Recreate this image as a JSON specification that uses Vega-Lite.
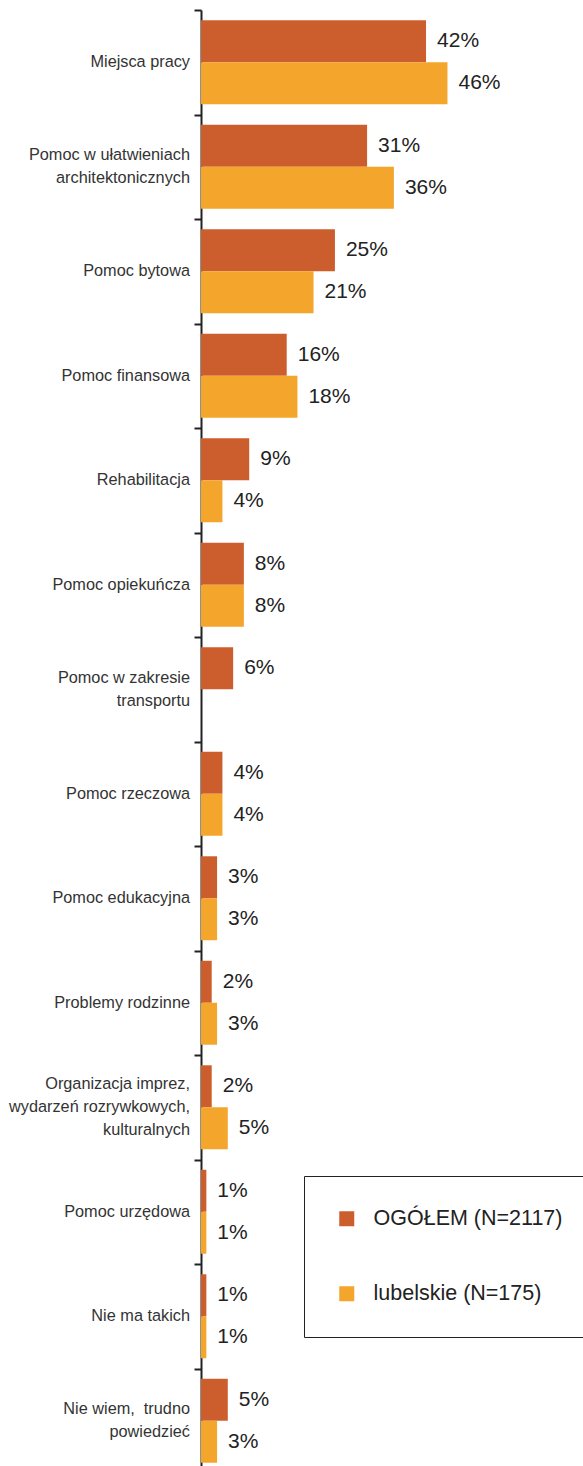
{
  "$schema": "https://vega.github.io/schema/vega-lite/v6.json",
  "autosize": {"type": "none"},
  "width": 382,
  "height": 1463,
  "padding": {"left": 201, "top": 10, "right": 0, "bottom": 0},
  "background": "white",
  "config": {
    "view": {"stroke": null},
    "font": "Liberation Sans"
  },
  "data": {
    "values": [
      {"cat": "Miejsca pracy", "series": "OGÓŁEM (N=2117)", "value": 0.42},
      {"cat": "Miejsca pracy", "series": "lubelskie (N=175)", "value": 0.46},
      {"cat": "Pomoc w ułatwieniach|architektonicznych", "series": "OGÓŁEM (N=2117)", "value": 0.31},
      {"cat": "Pomoc w ułatwieniach|architektonicznych", "series": "lubelskie (N=175)", "value": 0.36},
      {"cat": "Pomoc bytowa", "series": "OGÓŁEM (N=2117)", "value": 0.25},
      {"cat": "Pomoc bytowa", "series": "lubelskie (N=175)", "value": 0.21},
      {"cat": "Pomoc finansowa", "series": "OGÓŁEM (N=2117)", "value": 0.16},
      {"cat": "Pomoc finansowa", "series": "lubelskie (N=175)", "value": 0.18},
      {"cat": "Rehabilitacja", "series": "OGÓŁEM (N=2117)", "value": 0.09},
      {"cat": "Rehabilitacja", "series": "lubelskie (N=175)", "value": 0.04},
      {"cat": "Pomoc opiekuńcza", "series": "OGÓŁEM (N=2117)", "value": 0.08},
      {"cat": "Pomoc opiekuńcza", "series": "lubelskie (N=175)", "value": 0.08},
      {"cat": "Pomoc w zakresie|transportu", "series": "OGÓŁEM (N=2117)", "value": 0.06},
      {"cat": "Pomoc rzeczowa", "series": "OGÓŁEM (N=2117)", "value": 0.04},
      {"cat": "Pomoc rzeczowa", "series": "lubelskie (N=175)", "value": 0.04},
      {"cat": "Pomoc edukacyjna", "series": "OGÓŁEM (N=2117)", "value": 0.03},
      {"cat": "Pomoc edukacyjna", "series": "lubelskie (N=175)", "value": 0.03},
      {"cat": "Problemy rodzinne", "series": "OGÓŁEM (N=2117)", "value": 0.02},
      {"cat": "Problemy rodzinne", "series": "lubelskie (N=175)", "value": 0.03},
      {"cat": "Organizacja imprez,|wydarzeń rozrywkowych,|kulturalnych", "series": "OGÓŁEM (N=2117)", "value": 0.02},
      {"cat": "Organizacja imprez,|wydarzeń rozrywkowych,|kulturalnych", "series": "lubelskie (N=175)", "value": 0.05},
      {"cat": "Pomoc urzędowa", "series": "OGÓŁEM (N=2117)", "value": 0.01},
      {"cat": "Pomoc urzędowa", "series": "lubelskie (N=175)", "value": 0.01},
      {"cat": "Nie ma takich", "series": "OGÓŁEM (N=2117)", "value": 0.01},
      {"cat": "Nie ma takich", "series": "lubelskie (N=175)", "value": 0.01},
      {"cat": "Nie wiem,\u00a0 trudno|powiedzieć", "series": "OGÓŁEM (N=2117)", "value": 0.05},
      {"cat": "Nie wiem,\u00a0 trudno|powiedzieć", "series": "lubelskie (N=175)", "value": 0.03}
    ]
  },
  "encoding": {
    "y": {
      "field": "cat",
      "type": "nominal",
      "sort": null,
      "scale": {"paddingInner": 0, "paddingOuter": 0},
      "axis": {
        "title": null,
        "labels": false,
        "tickBand": "extent",
        "domainColor": "#222222",
        "domainWidth": 2,
        "tickColor": "#222222",
        "tickWidth": 2,
        "tickSize": 7
      }
    },
    "x": {
      "field": "value",
      "type": "quantitative",
      "scale": {"domain": [0, 0.713], "nice": false},
      "axis": null
    }
  },
  "layer": [
    {
      "mark": {"type": "bar"},
      "encoding": {
        "yOffset": {
          "field": "series",
          "type": "nominal",
          "sort": ["OGÓŁEM (N=2117)", "lubelskie (N=175)"],
          "scale": {"paddingOuter": 0.245, "paddingInner": 0}
        },
        "color": {
          "field": "series",
          "type": "nominal",
          "sort": ["OGÓŁEM (N=2117)", "lubelskie (N=175)"],
          "scale": {"domain": ["OGÓŁEM (N=2117)", "lubelskie (N=175)"], "range": ["#CC5E2D", "#F4A52B"]},
          "legend": {
            "title": null,
            "orient": "none",
            "legendX": 103,
            "legendY": 1166,
            "symbolType": "square",
            "symbolSize": 225,
            "symbolStrokeWidth": 0,
            "labelFontSize": 21.5,
            "labelColor": "#222222",
            "labelOffset": 16,
            "rowPadding": 52,
            "padding": 32,
            "strokeColor": "#222222",
            "labelLimit": 400
          }
        }
      }
    },
    {
      "mark": {"type": "text", "align": "left", "baseline": "middle", "dx": 11, "fontSize": 21, "color": "#222222"},
      "encoding": {
        "yOffset": {
          "field": "series",
          "type": "nominal",
          "sort": ["OGÓŁEM (N=2117)", "lubelskie (N=175)"],
          "scale": {"paddingOuter": 0.245, "paddingInner": 0}
        },
        "text": {"field": "value", "type": "quantitative", "format": ".0%"}
      }
    },
    {
      "transform": [
        {"filter": "datum.series == 'OGÓŁEM (N=2117)' && length(split(datum.cat, '|')) == 1"}
      ],
      "mark": {"type": "text", "align": "right", "baseline": "middle", "dx": -11, "fontSize": 16.3, "color": "#333333", "lineBreak": "|", "lineHeight": 23},
      "encoding": {
        "x": {"datum": 0, "type": "quantitative"},
        "text": {"field": "cat"}
      }
    },
    {
      "transform": [
        {"filter": "datum.series == 'OGÓŁEM (N=2117)' && length(split(datum.cat, '|')) == 2"}
      ],
      "mark": {"type": "text", "align": "right", "baseline": "middle", "dx": -11, "dy": -11.5, "fontSize": 16.3, "color": "#333333", "lineBreak": "|", "lineHeight": 23},
      "encoding": {
        "x": {"datum": 0, "type": "quantitative"},
        "text": {"field": "cat"}
      }
    },
    {
      "transform": [
        {"filter": "datum.series == 'OGÓŁEM (N=2117)' && length(split(datum.cat, '|')) == 3"}
      ],
      "mark": {"type": "text", "align": "right", "baseline": "middle", "dx": -11, "dy": -23, "fontSize": 16.3, "color": "#333333", "lineBreak": "|", "lineHeight": 23},
      "encoding": {
        "x": {"datum": 0, "type": "quantitative"},
        "text": {"field": "cat"}
      }
    }
  ]
}
